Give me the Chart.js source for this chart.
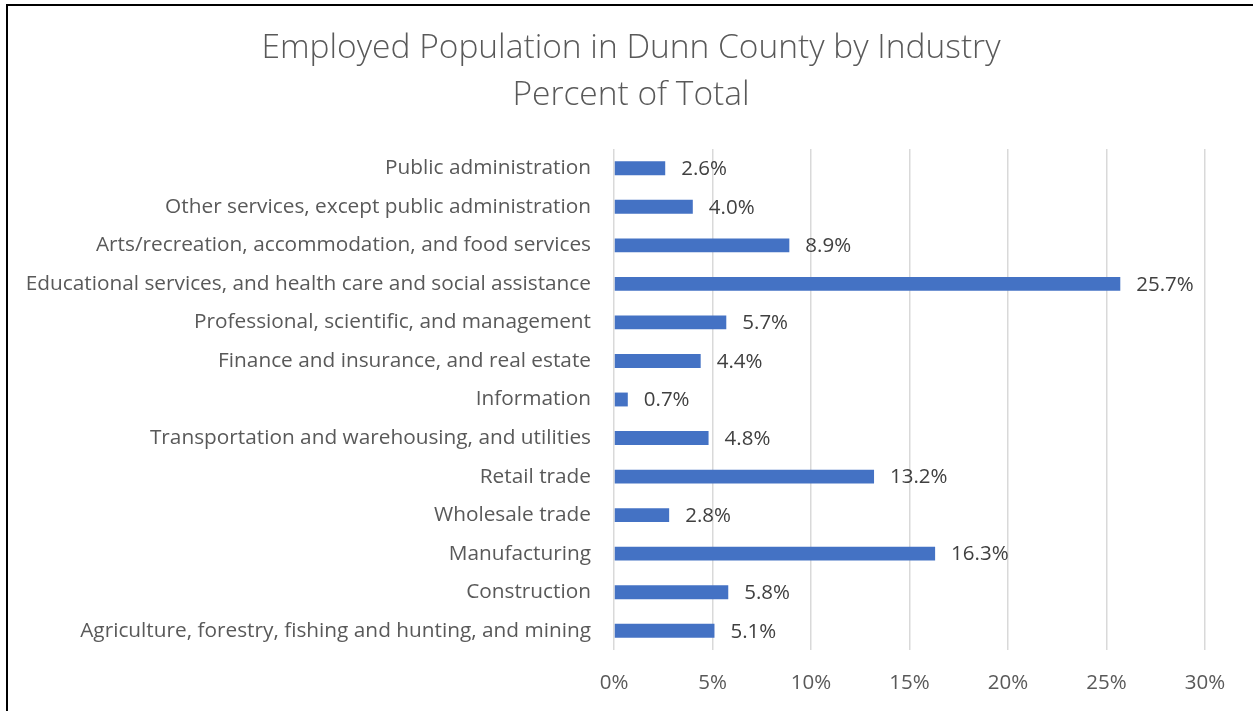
<!DOCTYPE html>
<html>
<head>
<meta charset="utf-8">
<script src="https://cdn.jsdelivr.net/npm/chart.js@4"></script>
<style>
  html, body { margin: 0; padding: 0; background: #fff; overflow: hidden; }
  #frame { position: absolute; left: 6px; top: 4px; width: 1300px; height: 800px;
           border-left: 2px solid #000; border-top: 2px solid #000; }
  #wrap { position: absolute; left: 0; top: 0; width: 1253px; height: 711px; }
</style>
</head>
<body>
<div id="frame"></div>
<div id="wrap"><canvas id="industryChart"></canvas></div>
<script>
// categories, top to bottom as in the picture
var industries = [
  'Public administration',
  'Other services, except public administration',
  'Arts/recreation, accommodation, and food services',
  'Educational services, and health care and social assistance',
  'Professional, scientific, and management',
  'Finance and insurance, and real estate',
  'Information',
  'Transportation and warehousing, and utilities',
  'Retail trade',
  'Wholesale trade',
  'Manufacturing',
  'Construction',
  'Agriculture, forestry, fishing and hunting, and mining'
];
var percentOfTotal = [2.6, 4.0, 8.9, 25.7, 5.7, 4.4, 0.7, 4.8, 13.2, 2.8, 16.3, 5.8, 5.1];
var xTicks = [0, 5, 10, 15, 20, 25, 30];
var titleLines = ['Employed Population in Dunn County by Industry', 'Percent of Total'];

var fontName = '"Open Sans", Lato, sans-serif';

// title drawn by hand so it can sit over the whole frame, not just the plot
var chartTitle = {
  id: 'chartTitle',
  afterDraw: function (chart) {
    var ctx = chart.ctx;
    ctx.save();
    ctx.font = '300 33.5px ' + fontName;
    ctx.fillStyle = '#595959';
    ctx.textAlign = 'center';
    ctx.textBaseline = 'middle';
    ctx.fillText(titleLines[0], 631, 48);
    ctx.fillText(titleLines[1], 631, 95);
    ctx.restore();
  }
};

// draws the value next to each bar
var barLabels = {
  id: 'barLabels',
  afterDatasetsDraw: function (chart) {
    var ctx = chart.ctx;
    var meta = chart.getDatasetMeta(0);
    ctx.save();
    ctx.font = '20.5px ' + fontName;
    ctx.fillStyle = '#404040';
    ctx.textAlign = 'left';
    ctx.textBaseline = 'middle';
    meta.data.forEach(function (bar, i) {
      ctx.fillText(percentOfTotal[i].toFixed(1) + '%', bar.x + 16, bar.y + 1);
    });
    ctx.restore();
  }
};

const ctx1 = document.getElementById('industryChart').getContext('2d');
const industryChart = new Chart(ctx1, {
  type: 'bar',
  data: {
    labels: industries,
    datasets: [{
      label: 'Percent of Total',
      data: percentOfTotal,
      backgroundColor: '#4472C4',
      borderWidth: 0,
      barPercentage: 0.36,
      categoryPercentage: 1
    }]
  },
  options: {
    indexAxis: 'y',
    responsive: true,
    maintainAspectRatio: false,
    animation: false,
    layout: { padding: { left: 0, right: 48, top: 149, bottom: 0 } },
    plugins: {
      legend: { display: false },
      tooltip: { enabled: false },
      title: { display: false }
    },
    scales: {
      x: {
        min: 0,
        max: 30,
        afterBuildTicks: function (scale) {
          scale.ticks = xTicks.map(function (v) { return { value: v }; });
        },
        afterFit: function (scale) { scale.height = 61; },
        grid: { color: '#d9d9d9', lineWidth: 1.5, drawTicks: false },
        border: { display: false },
        ticks: {
          padding: 21,
          color: '#595959',
          font: { family: fontName, size: 20.5 },
          callback: function (v) { return v + '%'; }
        }
      },
      y: {
        afterFit: function (scale) { scale.width = 614; },
        grid: { display: false, drawTicks: false },
        border: { display: false },
        ticks: {
          padding: 23,
          color: '#595959',
          font: { family: fontName, size: 20.8 },
          autoSkip: false
        }
      }
    }
  },
  plugins: [barLabels, chartTitle]
});
</script>
</body>
</html>
